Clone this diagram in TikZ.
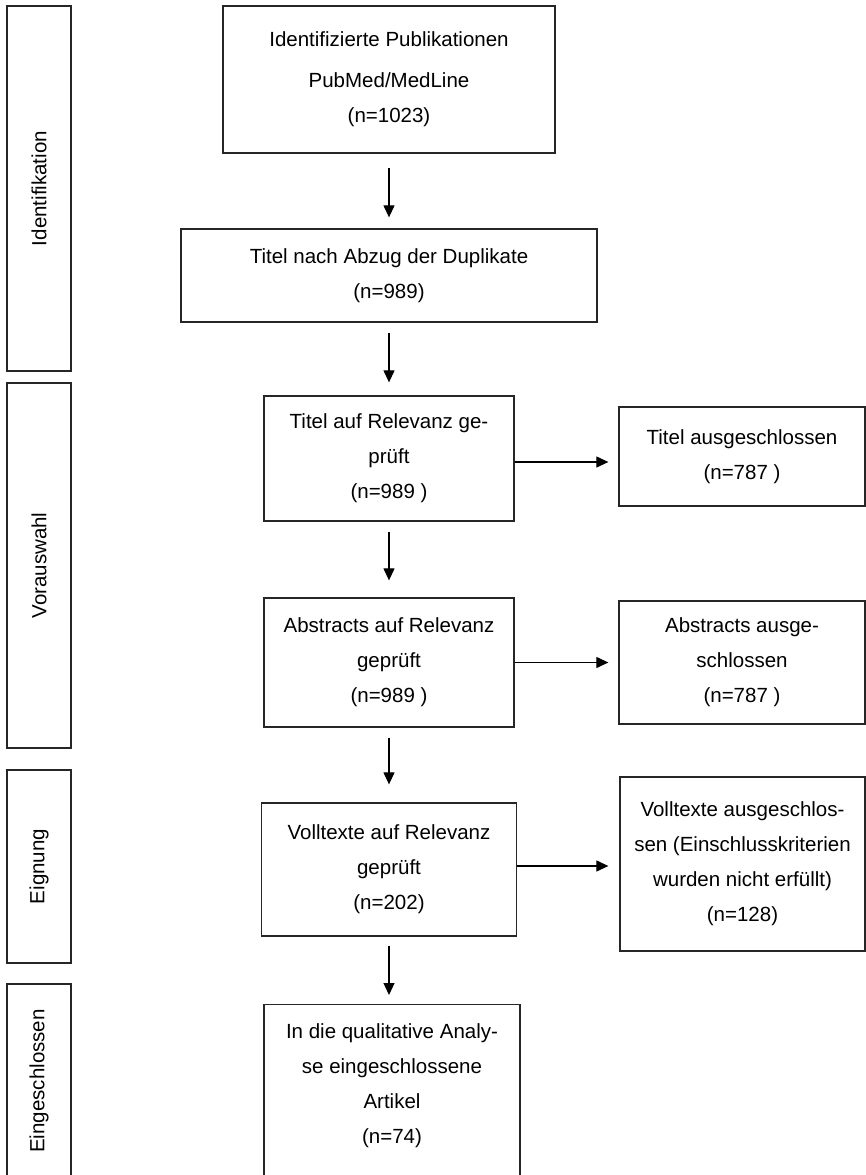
\documentclass[tikz,border=0pt]{standalone}
\usepackage{fontspec}
\setmainfont{Liberation Sans}
\usetikzlibrary{arrows.meta}

\begin{document}
\begin{tikzpicture}[x=1pt, y=-1pt,
    every node/.style={font=\fontsize{20.5}{35}\selectfont, align=center},
    stage/.style={draw=black!85, line width=1.3pt, inner sep=0pt, rotate=90, minimum height=64},
    box/.style={draw=black!85, line width=1.3pt, inner sep=4pt},
    flow/.style={-{Triangle[length=12pt, width=11pt]}, line width=1.2pt}]
  \useasboundingbox (0,0) rectangle (866,1175);
  \clip (0,0) rectangle (866,1175);

  % phases
  \node[stage, minimum width=365] (ident) at (39,188.5) {Identifikation};
  \node[stage, minimum width=365] (vorausw) at (39,565.5) {Vorauswahl};
  \node[stage, minimum width=193] (eignung) at (39,866.5) {Eignung};
  \node[stage, minimum width=194] (eingeschl) at (39,1081) {Eingeschlossen};

  % main column
  \node[box, minimum width=332, minimum height=147] (ident_pub) at (389,79.5)
    {Identifizierte Publikationen\\[6pt]PubMed/MedLine\\(n=1023)};
  \node[box, minimum width=416, minimum height=93] (dupl) at (389,275.5)
    {Titel nach Abzug der Duplikate\\(n=989)};
  \node[box, minimum width=250, minimum height=125] (titel) at (389,458.5)
    {Titel auf Relevanz ge-\\prüft\\(n=989 )};
  \node[box, minimum width=250, minimum height=129] (abstr) at (389,662.5)
    {Abstracts auf Relevanz\\geprüft\\(n=989 )};
  \node[box, minimum width=255, minimum height=133] (voll) at (389,869.5)
    {Volltexte auf Relevanz\\geprüft\\(n=202)};
  \node[box, anchor=north, minimum width=256, inner ysep=19pt, text depth=200pt] (incl) at (392,1004)
    {In die qualitative Analy-\\se eingeschlossene\\Artikel\\(n=74)};

  % excluded
  \node[box, minimum width=246, minimum height=99] (titel_ex) at (742,456.5)
    {Titel ausgeschlossen\\(n=787 )};
  \node[box, minimum width=246, minimum height=123] (abstr_ex) at (742,662.5)
    {Abstracts ausge-\\schlossen\\(n=787 )};
  \node[box, minimum width=245, minimum height=174] (voll_ex) at (742.5,864)
    {Volltexte ausgeschlos-\\sen (Einschlusskriterien\\wurden nicht erfüllt)\\(n=128)};

  \draw[flow, shorten <=14pt, shorten >=11pt] (ident_pub.south) -- (dupl.north);
  \draw[flow, shorten <=10pt, shorten >=13pt] (dupl.south) -- (titel.north);
  \draw[flow, shorten <=10pt, shorten >=17pt] (titel.south) -- (abstr.north);
  \draw[flow, shorten <=10pt, shorten >=18pt] (abstr.south) -- (voll.north);
  \draw[flow, shorten <=9pt, shorten >=9pt] (voll.south) -- (voll.south |- incl.north);

  \draw[flow, shorten >=10pt] ([yshift=-3.5pt]titel.east) -- ([yshift=-3.5pt]titel.east -| titel_ex.west);
  \draw[flow, shorten >=10pt] (abstr.east) -- (abstr.east -| abstr_ex.west);
  \draw[flow, shorten >=11pt] ([yshift=3.5pt]voll.east) -- ([yshift=3.5pt]voll.east -| voll_ex.west);
\end{tikzpicture}
\end{document}
